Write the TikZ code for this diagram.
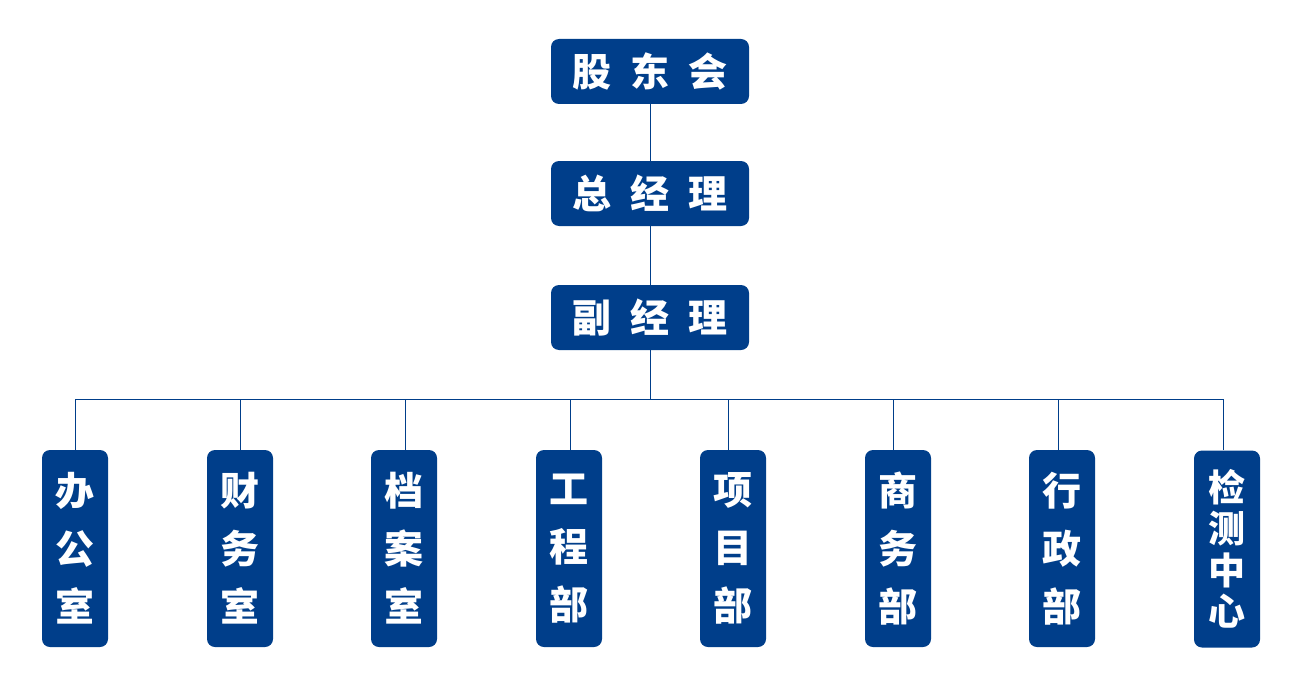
\documentclass[tikz,border=0pt]{standalone}
\usepackage{fontspec}
\newfontfamily\cjk{Noto Sans CJK SC}
\definecolor{navy}{RGB}{0,62,138}
\begin{document}
\begin{tikzpicture}[x=1pt,y=-1pt,
 topbox/.style={fill=navy, rounded corners=8pt, minimum width=198pt, minimum height=65pt, inner sep=0pt, text=white, font=\cjk\bfseries\fontsize{39}{42}\selectfont},
 deptbox/.style={fill=navy, rounded corners=8pt, minimum width=66pt, minimum height=197pt, inner sep=0pt, text=white, align=center, font=\cjk\bfseries\fontsize{39}{58}\selectfont},
 link/.style={draw=navy, line width=0.9pt}]
\useasboundingbox (0,0) rectangle (1300,690);
\node[topbox] (t1) at (650,71.5) {股\hspace{19pt}东\hspace{19pt}会};
\node[topbox] (t2) at (650,193.5) {总\hspace{19pt}经\hspace{19pt}理};
\node[topbox] (t3) at (650,317.5) {副\hspace{19pt}经\hspace{19pt}理};
\node[deptbox] (b1) at (75,548.5) {办\\公\\室};
\node[deptbox] (b2) at (240,548.5) {财\\务\\室};
\node[deptbox] (b3) at (404,548.5) {档\\案\\室};
\node[deptbox] (b4) at (569,548.5) {工\\程\\部};
\node[deptbox] (b5) at (733,548.5) {项\\目\\部};
\node[deptbox] (b6) at (898,548.5) {商\\务\\部};
\node[deptbox] (b7) at (1062,548.5) {行\\政\\部};
\node[deptbox, font=\cjk\bfseries\fontsize{37}{41.5}\selectfont] (b8) at (1227,549) {检\\测\\中\\心};
\coordinate (bar) at (650,399);
\coordinate (c1) at (75,399);
\coordinate (c2) at (240,399);
\coordinate (c3) at (405,399);
\coordinate (c4) at (570,399);
\coordinate (c5) at (728,399);
\coordinate (c6) at (893,399);
\coordinate (c7) at (1058,399);
\coordinate (c8) at (1223,399);
\draw[link] (t1.south) -- (t2.north);
\draw[link] (t2.south) -- (t3.north);
\draw[link] (t3.south) -- (bar);
\draw[link] (c1) -- (c8);
\foreach \i in {1,...,8} {\draw[link] (c\i) -- (b\i.north -| c\i);}
\end{tikzpicture}
\end{document}
